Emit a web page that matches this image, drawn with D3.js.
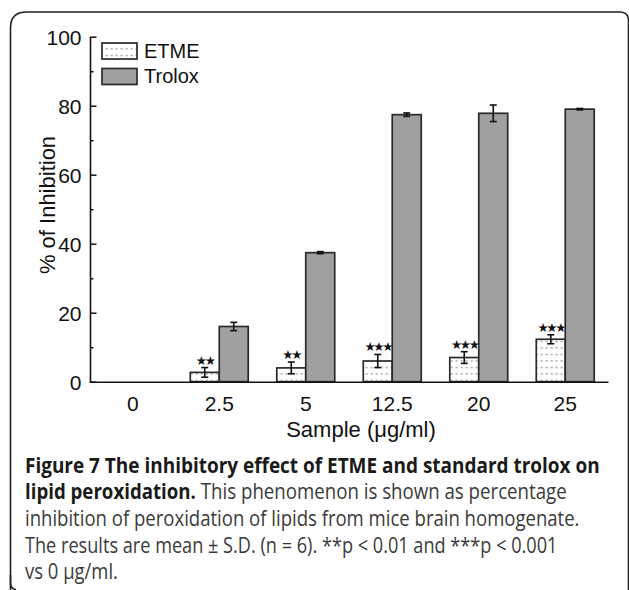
<!DOCTYPE html>
<html>
<head>
<meta charset="utf-8">
<script src="https://cdn.jsdelivr.net/npm/d3@7"></script>
<style>
  html, body { margin: 0; padding: 0; background: #fff; }
  svg { display: block; }
</style>
</head>
<body>
<svg id="chart" width="629" height="590"></svg>
<script>
// ---- data ----
const categories = ["0", "2.5", "5", "12.5", "20", "25"];
const seriesNames = ["ETME", "Trolox"];
const etmeValues = [0, 2.7, 4.0, 6.0, 7.0, 12.3];
const etmeErrors = [0, 1.4, 1.7, 1.9, 1.7, 1.3];
const troloxValues = [0, 16.0, 37.4, 77.4, 77.8, 79.0];
const troloxErrors = [0, 1.2, 0.3, 0.5, 2.4, 0.2];
const etmeStars = ["", "★★", "★★", "★★★", "★★★", "★★★"];
const yTicks = [0, 20, 40, 60, 80, 100];
const yMinorTicks = [10, 30, 50, 70, 90];
const xTitle = "Sample (μg/ml)";
const yTitle = "% of Inhibition";
const captionLines = [
  [{t: "Figure 7 The inhibitory effect of ETME and standard trolox on", b: true}],
  [{t: "lipid peroxidation.", b: true}, {t: " This phenomenon is shown as percentage", b: false}],
  [{t: "inhibition of peroxidation of lipids from mice brain homogenate.", b: false}],
  [{t: "The results are mean ± S.D. (n = 6). **p < 0.01 and ***p < 0.001", b: false}],
  [{t: "vs 0 μg/ml.", b: false}]
];
const captionWidths = [575, 542, 555, 533, 93];

// ---- drawing ----
const svg = d3.select("#chart");
const defs = svg.append("defs");
const pat = defs.append("pattern").attr("id", "dots")
  .attr("patternUnits", "userSpaceOnUse").attr("width", 5).attr("height", 6.5);
pat.append("rect").attr("width", 5).attr("height", 6.5).attr("fill", "#fff");
pat.append("line").attr("x1", 0.5).attr("x2", 2.8).attr("y1", 3.5).attr("y2", 3.5)
  .attr("stroke", "#8a8a8a").attr("stroke-width", 1);

// frame
svg.append("path")
  .attr("d", "M10.5,600 L10.5,28 Q10.5,12 26.5,12 L620,12 Q628,12 628.5,20 L628.5,600")
  .attr("fill", "none").attr("stroke", "#222").attr("stroke-width", 1.6);
svg.append("path")
  .attr("d", "M10.5,575 L10.5,583 Q10.5,589 16,589.5")
  .attr("fill", "none").attr("stroke", "#222").attr("stroke-width", 1.6);

const y = d3.scaleLinear().domain([0, 100]).range([381.7, 36.7]);
const x = d3.scaleBand().domain(categories).range([89.5, 608.5])
  .paddingInner(0.33).paddingOuter(0.165);
const xs = d3.scaleBand().domain(seriesNames).range([0, x.bandwidth()]);

const fills = {ETME: "url(#dots)", Trolox: "#a0a0a0"};
const data = [];
categories.forEach((c, i) => {
  data.push({cat: c, s: "ETME", v: etmeValues[i], e: etmeErrors[i], star: etmeStars[i]});
  data.push({cat: c, s: "Trolox", v: troloxValues[i], e: troloxErrors[i], star: ""});
});
const shown = data.filter(d => d.v > 0);

const g = svg.append("g");
g.selectAll("rect.bar").data(shown).enter().append("rect")
  .attr("class", "bar")
  .attr("x", d => x(d.cat) + xs(d.s))
  .attr("y", d => y(d.v))
  .attr("width", xs.bandwidth())
  .attr("height", d => y(0) - y(d.v))
  .attr("fill", d => fills[d.s])
  .attr("stroke", "#2a2a2a").attr("stroke-width", 1.7);

// error bars
const cap = 3.5;
const eb = g.selectAll("g.err").data(shown).enter().append("g").attr("class", "err")
  .attr("stroke", "#111").attr("stroke-width", 1.6);
eb.append("line")
  .attr("x1", d => x(d.cat) + xs(d.s) + xs.bandwidth() / 2)
  .attr("x2", d => x(d.cat) + xs(d.s) + xs.bandwidth() / 2)
  .attr("y1", d => y(d.v - d.e)).attr("y2", d => y(d.v + d.e));
["-", "+"].forEach(sign => {
  eb.append("line")
    .attr("x1", d => x(d.cat) + xs(d.s) + xs.bandwidth() / 2 - cap)
    .attr("x2", d => x(d.cat) + xs(d.s) + xs.bandwidth() / 2 + cap)
    .attr("y1", d => y(sign === "+" ? d.v + d.e : d.v - d.e))
    .attr("y2", d => y(sign === "+" ? d.v + d.e : d.v - d.e));
});

// stars
g.selectAll("text.star").data(shown.filter(d => d.star)).enter().append("text")
  .attr("class", "star")
  .attr("x", d => x(d.cat) + xs(d.s) + xs.bandwidth() / 2)
  .attr("y", d => y(d.v + d.e) - 3)
  .attr("text-anchor", "middle")
  .attr("font-family", "DejaVu Sans")
  .attr("font-size", 12.5)
  .attr("letter-spacing", -2.3)
  .attr("fill", "#111")
  .text(d => d.star);

// y axis
const yAxis = svg.append("g").attr("transform", "translate(90.5,0)")
  .call(d3.axisLeft(y).tickValues(yTicks).tickSize(-6).tickPadding(10).tickFormat(d3.format("d")));
yAxis.select(".domain").attr("stroke", "#111").attr("stroke-width", 1.6)
  .attr("d", `M0,${y(100)}V${y(0)}`);
yAxis.selectAll(".tick line").attr("stroke", "#111").attr("stroke-width", 1.5);
yAxis.selectAll(".tick text").attr("font-family", "Liberation Sans, Arial, sans-serif")
  .attr("font-size", 21).attr("fill", "#111").attr("x", -9).attr("dy", "0.35em");
const yMinor = svg.append("g").attr("transform", "translate(90.5,0)")
  .call(d3.axisLeft(y).tickValues(yMinorTicks).tickSize(-3).tickFormat(""));
yMinor.select(".domain").remove();
yMinor.selectAll(".tick line").attr("stroke", "#111").attr("stroke-width", 1.5);

// x axis
const xAxis = svg.append("g").attr("transform", `translate(0,${y(0) + 0.5})`)
  .call(d3.axisBottom(x).tickSize(0).tickPadding(14));
xAxis.select(".domain").attr("stroke", "#111").attr("stroke-width", 1.6)
  .attr("d", "M89.5,0H608.5");
xAxis.selectAll(".tick text").attr("font-family", "Liberation Sans, Arial, sans-serif")
  .attr("font-size", 21).attr("fill", "#111");

// axis titles
svg.append("text").attr("x", 361).attr("y", 436.5)
  .attr("text-anchor", "middle")
  .attr("font-family", "Liberation Sans, Arial, sans-serif").attr("font-size", 22)
  .attr("fill", "#111").text(xTitle);
svg.append("text").attr("transform", "translate(55,205) rotate(-90)")
  .attr("text-anchor", "middle")
  .attr("font-family", "Liberation Sans, Arial, sans-serif").attr("font-size", 22)
  .attr("fill", "#111").text(yTitle);

// legend
const leg = svg.append("g");
seriesNames.forEach((s, i) => {
  const ly = 43 + i * 25.5;
  leg.append("rect").attr("x", 102).attr("y", ly).attr("width", 35).attr("height", 16)
    .attr("fill", fills[s]).attr("stroke", "#2a2a2a").attr("stroke-width", 1.7);
  leg.append("text").attr("x", 144).attr("y", ly + 14.5)
    .attr("font-family", "Liberation Sans, Arial, sans-serif").attr("font-size", 20)
    .attr("fill", "#111").text(s);
});

// caption
const baselines = [472.7, 499.3, 526.2, 552.7, 579];
captionLines.forEach((parts, i) => {
  const t = svg.append("text")
    .attr("font-family", "Open Sans, Noto Sans, sans-serif")
    .attr("font-size", 21);
  parts.forEach(p => {
    t.append("tspan").attr("font-weight", p.b ? "bold" : "normal")
      .attr("fill", p.b ? "#1a1a1a" : "#3a3a3a").text(p.t);
  });
  const w = t.node().getComputedTextLength();
  const k = captionWidths[i] / w;
  t.attr("transform", `translate(25,${baselines[i]}) scale(${k},1)`);
});
</script>
</body>
</html>
